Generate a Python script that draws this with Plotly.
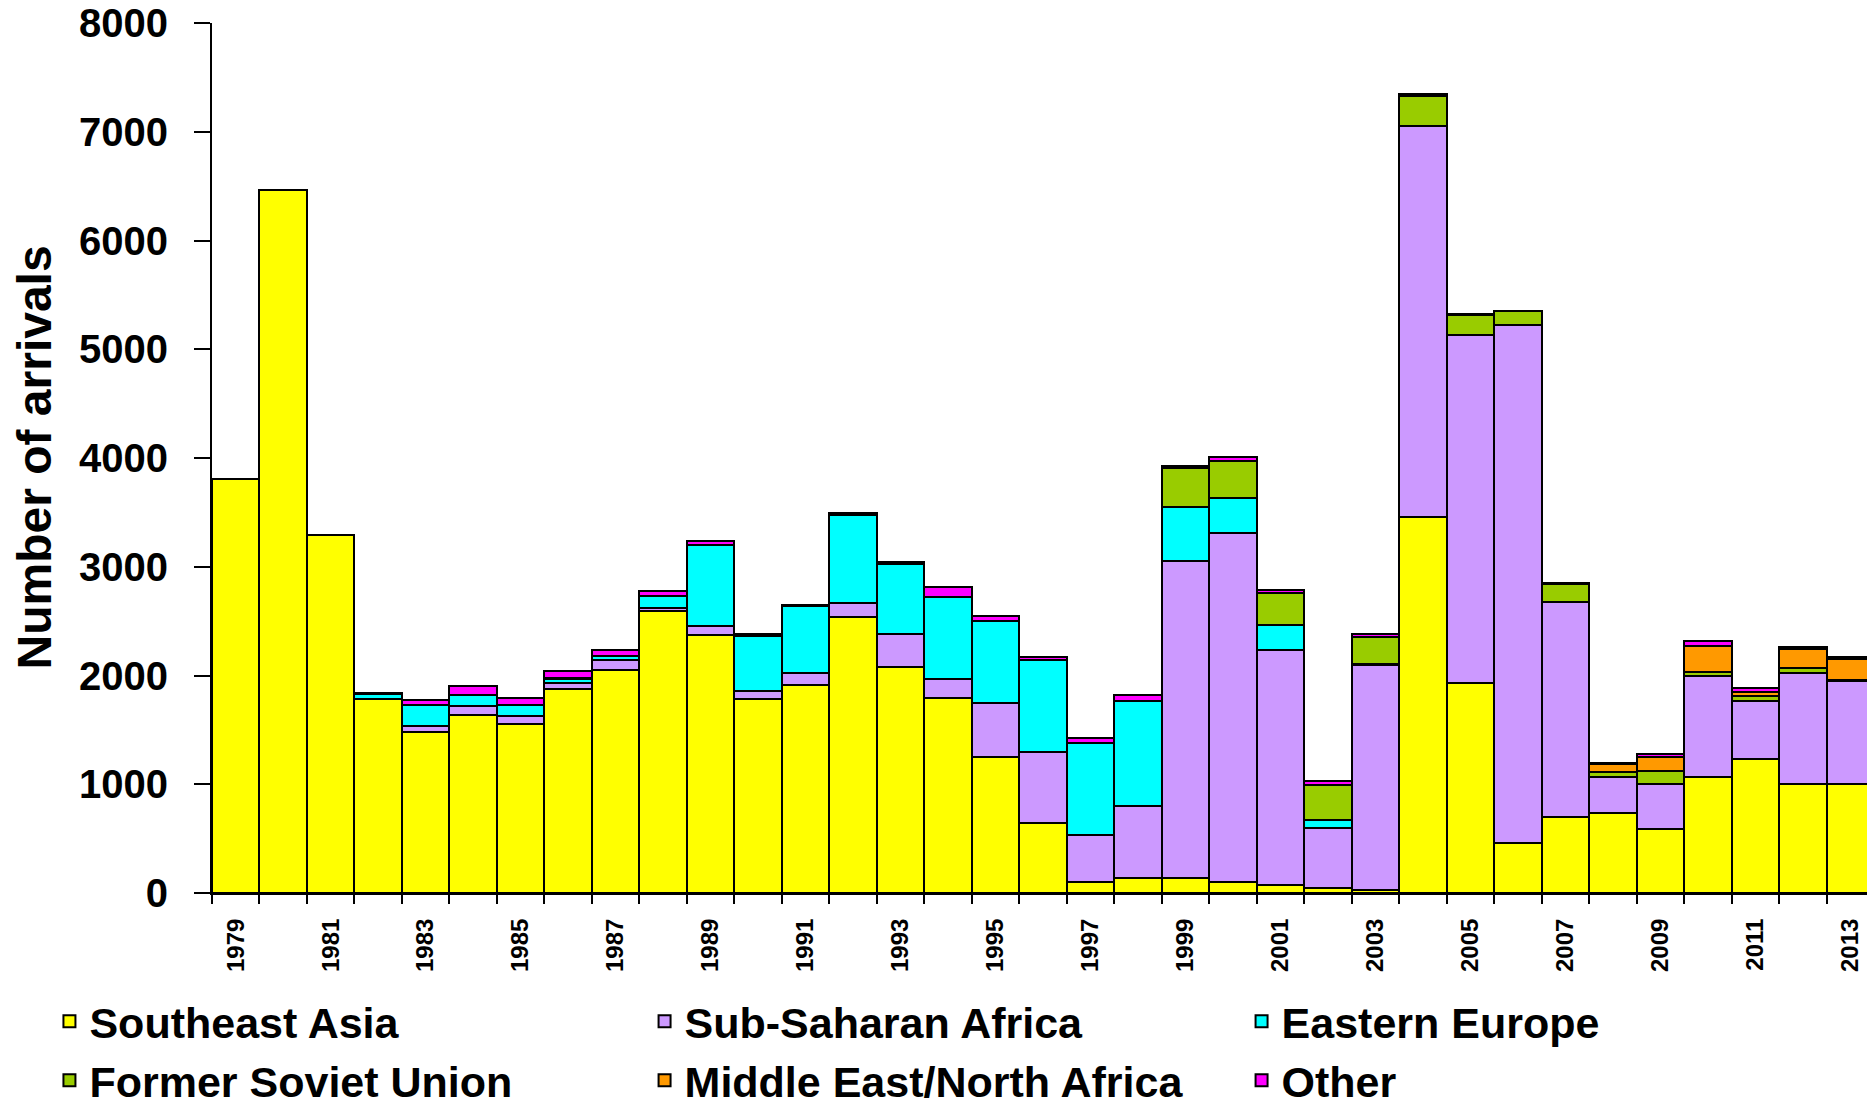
import plotly.graph_objects as go

years = list(range(1979, 2014))

southeast_asia = [3810, 6465, 3295, 1785, 1485, 1640, 1550, 1875, 2050, 2590,
                  2375, 1785, 1915, 2540, 2075, 1790, 1250, 640, 105, 140,
                  140, 105, 70, 50, 30, 3455, 1930, 460, 695, 735,
                  590, 1070, 1230, 1000, 1000]
sub_saharan_africa = [0, 0, 0, 0, 52, 76, 80, 52, 90, 30,
                      77, 73, 107, 125, 305, 178, 500, 660, 430, 660,
                      2915, 3205, 2160, 550, 2065, 3595, 3205, 4765, 1985, 335,
                      410, 930, 535, 1020, 945]
eastern_europe = [0, 0, 0, 45, 195, 108, 100, 40, 37, 113,
                  751, 506, 613, 812, 647, 751, 751, 845, 843, 970,
                  490, 322, 237, 71, 10, 0, 0, 0, 0, 0,
                  0, 0, 0, 0, 0]
former_soviet_union = [0, 0, 0, 0, 0, 0, 0, 10, 0, 0,
                       0, 0, 0, 0, 0, 0, 0, 0, 0, 0,
                       362, 343, 291, 322, 250, 283, 178, 123, 165, 46,
                       122, 31, 49, 52, 10]
middle_east_north_africa = [0, 0, 0, 0, 0, 0, 0, 0, 0, 0,
                            0, 0, 0, 0, 0, 0, 0, 0, 0, 0,
                            0, 0, 0, 0, 0, 0, 0, 0, 0, 68,
                            132, 236, 37, 172, 199]
other = [0, 0, 0, 10, 39, 76, 61, 61, 55, 40,
         31, 15, 15, 15, 20, 98, 46, 24, 46, 53,
         15, 31, 31, 36, 31, 15, 10, 8, 8, 15,
         20, 52, 31, 20, 17]

series_names = ["Southeast Asia", "Sub-Saharan Africa", "Eastern Europe",
                "Former Soviet Union", "Middle East/North Africa", "Other"]
series_values = [southeast_asia, sub_saharan_africa, eastern_europe,
                 former_soviet_union, middle_east_north_africa, other]
series_colors = ["#FFFF00", "#CC99FF", "#00FFFF", "#99CC00", "#FF9900", "#FF00FF"]
# legend column for each series (3 columns x 2 rows, as in the reference)
series_legend = ["legend", "legend2", "legend3", "legend", "legend2", "legend3"]

tick_years = list(range(1979, 2014, 2))
tick_labels = [str(y) for y in tick_years]
y_title = "Number of arrivals"

FONT = "Liberation Sans, Arial, sans-serif"
LEG_FONT = dict(family=FONT, size=43, color="black", weight="bold")

fig = go.Figure()
for name, vals, col, leg in zip(series_names, series_values, series_colors, series_legend):
    fig.add_trace(go.Bar(
        x=years, y=vals, name=name, legend=leg, legendgroup=name,
        marker=dict(color=col, line=dict(color="black", width=2)),
    ))

def legend_box(xpos):
    return dict(
        orientation="v", xref="container", yref="container",
        x=xpos, y=0.111, xanchor="left", yanchor="top",
        font=LEG_FONT, itemwidth=30, traceorder="normal",
        tracegroupgap=4, bgcolor="rgba(0,0,0,0)",
    )

fig.update_layout(
    width=1875, height=1101,
    barmode="stack", bargap=0,
    plot_bgcolor="white", paper_bgcolor="white",
    margin=dict(l=204, r=9, t=15, b=216, autoexpand=False),
    font=dict(family=FONT, color="black", weight="bold"),
    showlegend=True,
    legend=legend_box(0.0221),
    legend2=legend_box(0.3395),
    legend3=legend_box(0.6579),
)

# y-axis title (placed as a rotated text beside the axis)
fig.add_annotation(
    text=y_title, textangle=-90, showarrow=False,
    xref="paper", yref="paper", x=-0.1074, y=0.5,
    xanchor="center", yanchor="middle",
    font=dict(family=FONT, size=48, color="black", weight="bold"),
)

fig.update_xaxes(
    type="linear", range=[1978.5, 2013.5],
    tickmode="array", tickvals=tick_years, ticktext=tick_labels,
    tickangle=-90, ticks="", ticklabelstandoff=14,
    tickfont=dict(family=FONT, size=24, color="black", weight="bold"),
    showline=True, linecolor="black", linewidth=2,
    showgrid=False, zeroline=False, ticklabeloverflow="allow",
    minor=dict(tickmode="array", tickvals=[1978.5 + i for i in range(36)],
               ticks="outside", ticklen=9, tickwidth=2, tickcolor="black",
               showgrid=False),
)

fig.update_yaxes(
    range=[0, 8000], tickmode="linear", tick0=0, dtick=1000,
    ticks="outside", ticklen=16, tickwidth=2, tickcolor="black",
    ticklabelstandoff=18, ticklabeloverflow="allow",
    tickfont=dict(family=FONT, size=40, color="black", weight="bold"),
    showline=True, linecolor="black", linewidth=2,
    showgrid=False, zeroline=False,
)

fig.write_html("out.html")
